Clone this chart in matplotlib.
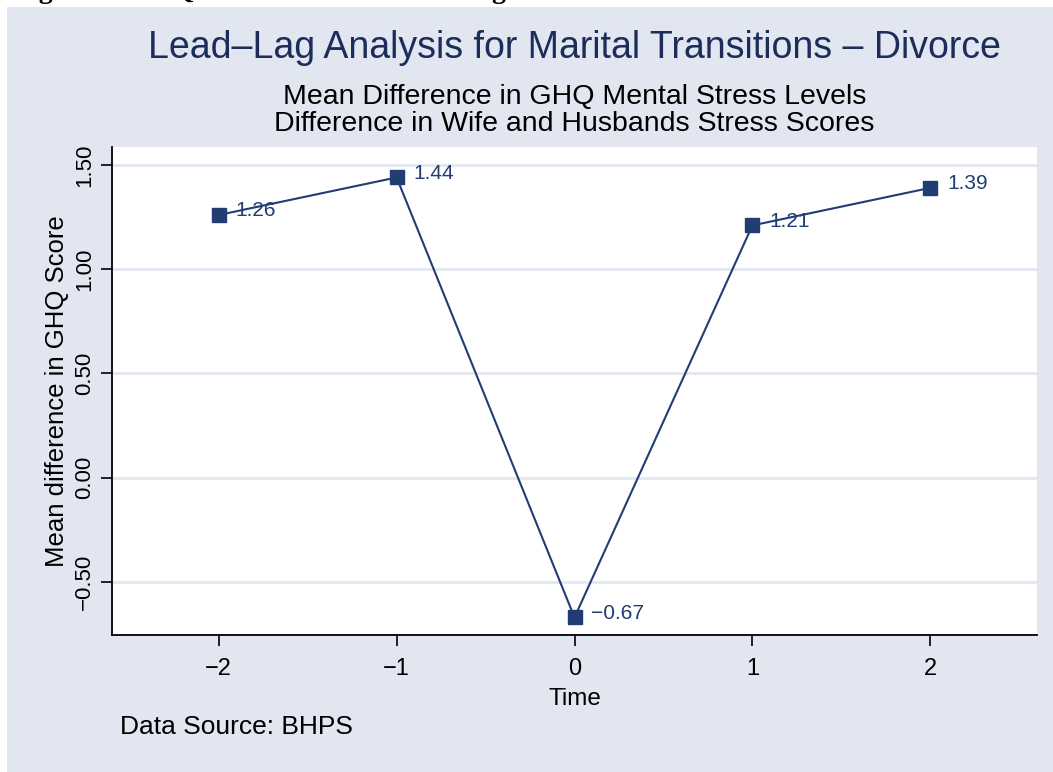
import numpy as np
import matplotlib
matplotlib.use("Agg")
import matplotlib.pyplot as plt
from matplotlib.patches import Rectangle

# data
time = [-2, -1, 0, 1, 2]
mean_diff = [1.26, 1.44, -0.67, 1.21, 1.39]
point_labels = ["1.26", "1.44", "\u22120.67", "1.21", "1.39"]
yticks = [-0.5, 0.0, 0.5, 1.0, 1.5]
ytick_labels = ["\u22120.50", "0.00", "0.50", "1.00", "1.50"]
xticks = [-2, -1, 0, 1, 2]
xtick_labels = ["\u22122", "\u22121", "0", "1", "2"]

navy = "#213d72"
bg = "#e1e6f0"
grid_col = "#e2e7f0"

plt.rcParams["font.family"] = ["Liberation Sans", "DejaVu Sans"]

W, H = 1053, 772
fig = plt.figure(figsize=(W / 100, H / 100), dpi=100)
fig.patch.set_facecolor("white")

# graph region background (starts a few px in from the top/left)
fig.patches.append(Rectangle((7 / W, 0), 1 - 7 / W, 1 - 7 / H, transform=fig.transFigure,
                             facecolor=bg, edgecolor="none", zorder=-5))

# caption from the page above, mostly cut off
fig.text(14 / W, 1 + 2 / H, "Figure 6: GHQ Stress Scores in Lead Lags", family="Liberation Serif",
         fontweight="bold", fontsize=20, va="baseline", ha="left", color="black")

ax = fig.add_axes([112 / W, 1 - 635 / H, (1037 - 112) / W, (635 - 147) / H])
ax.set_facecolor("white")

ax.plot(time, mean_diff, color=navy, lw=1.5, marker="s", markersize=10,
        markerfacecolor=navy, markeredgecolor=navy, zorder=3)
for x, y, lab in zip(time, mean_diff, point_labels):
    ax.annotate(lab, (x, y), xytext=(12, 3), textcoords="offset points",
                va="center", ha="left", fontsize=15, color=navy, zorder=4)

ax.set_xlim(-2.6, 2.6)
ax.set_ylim(-0.754, 1.586)
ax.set_yticks(yticks)
ax.set_yticklabels(ytick_labels, rotation=90, va="center")
ax.set_xticks(xticks)
ax.set_xticklabels(xtick_labels)
ax.tick_params(axis="both", direction="out", length=8, width=1.2, colors="black")
ax.tick_params(axis="x", labelsize=17, pad=8.5)
ax.tick_params(axis="y", labelsize=16, pad=4)
ax.grid(axis="y", color=grid_col, lw=2, zorder=0)
ax.set_axisbelow(True)
for s in ["top", "right"]:
    ax.spines[s].set_visible(False)
for s in ["left", "bottom"]:
    ax.spines[s].set_linewidth(1.3)

ax.set_xlabel("Time", fontsize=17.5, labelpad=6)
ax.set_ylabel("Mean difference in GHQ Score", fontsize=18.5, labelpad=4)

cx = (112 + 1037) / 2 / W
fig.text(cx, 1 - 48 / H, "Lead\u2013Lag Analysis for Marital Transitions \u2013 Divorce",
         ha="center", va="center", fontsize=27, color="#1c2d5a")
fig.text(cx, 1 - 97 / H, "Mean Difference in GHQ Mental Stress Levels",
         ha="center", va="center", fontsize=20.5, color="black")
fig.text(cx, 1 - 124 / H, "Difference in Wife and Husbands Stress Scores",
         ha="center", va="center", fontsize=20.5, color="black")
fig.text(120 / W, 1 - 727 / H, "Data Source: BHPS", ha="left", va="center",
         fontsize=19, color="black")

fig.savefig("out.png", dpi=100, facecolor=fig.get_facecolor())
